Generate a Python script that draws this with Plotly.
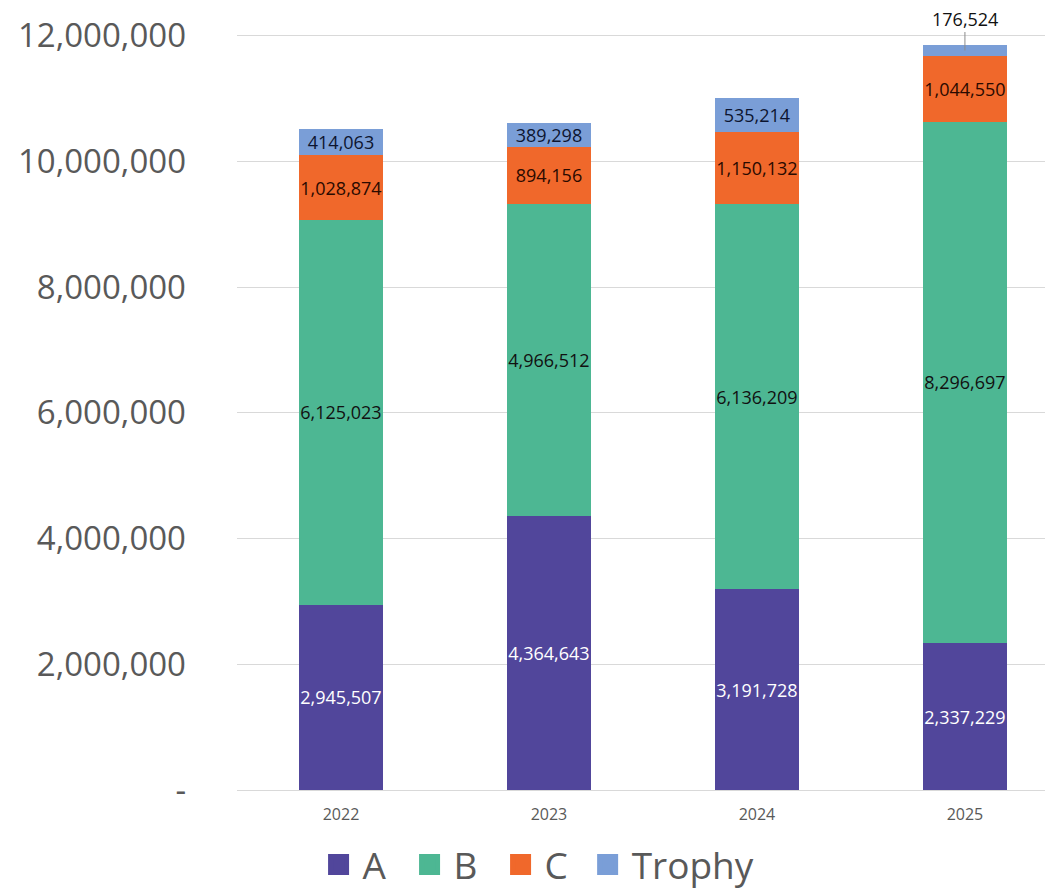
import plotly.graph_objects as go

years = ["2022", "2023", "2024", "2025"]
series_names = ["A", "B", "C", "Trophy"]
a_vals = [2945507, 4364643, 3191728, 2337229]
b_vals = [6125023, 4966512, 6136209, 8296697]
c_vals = [1028874, 894156, 1150132, 1044550]
trophy_vals = [414063, 389298, 535214, 176524]
y_ticks = [0, 2000000, 4000000, 6000000, 8000000, 10000000, 12000000]
y_tick_text = ["-", "2,000,000", "4,000,000", "6,000,000", "8,000,000", "10,000,000", "12,000,000"]

colors = ["#51469B", "#4DB793", "#F0682B", "#7A9ED7"]
text_colors = ["#FFFFFF", "#111111", "#2a0a00", "#0d1530"]
values = [a_vals, b_vals, c_vals, trophy_vals]
legend_ids = ["legend", "legend", "legend", "legend2"]

FONT = "Open Sans"
fig = go.Figure()
for name, vals, col, tcol, lid in zip(series_names, values, colors, text_colors, legend_ids):
    texts = [f"{v:,}" for v in vals]
    if name == "Trophy":
        texts = [t if i < len(vals) - 1 else "" for i, t in enumerate(texts)]
    fig.add_trace(go.Bar(
        x=years, y=vals, name=name, marker=dict(color=col, line=dict(width=0)),
        text=texts, textposition="inside", insidetextanchor="middle",
        constraintext="none", textangle=0,
        textfont=dict(family=FONT, size=18, color=tcol),
        showlegend=False, hoverinfo="skip",
    ))
    fig.add_trace(go.Scatter(
        x=[None], y=[None], mode="markers", name=name, legend=lid,
        marker=dict(symbol="square", size=16, color=col, line=dict(color=col, width=5)),
        showlegend=True,
    ))

# leader-line label for the small last Trophy segment
last = len(years) - 1
total_last = a_vals[last] + b_vals[last] + c_vals[last] + trophy_vals[last]
fig.add_annotation(
    xref="x", yref="y", x=last, y=total_last - trophy_vals[last] / 2,
    text=f"{trophy_vals[last]:,}",
    showarrow=True, arrowhead=0, arrowwidth=1, arrowcolor="#8c8c8c",
    ax=0, ay=-32, font=dict(family=FONT, size=18, color="#111111"),
)

legend_common = dict(orientation="h", traceorder="normal", yanchor="middle", y=-0.097,
                     xanchor="left", font=dict(family=FONT, size=37, color="#595959"),
                     itemwidth=38, tracegroupgap=0, bgcolor="rgba(0,0,0,0)")

fig.update_layout(
    width=1051, height=894,
    margin=dict(l=237, r=6, t=17, b=104, autoexpand=False),
    paper_bgcolor="white", plot_bgcolor="white",
    barmode="stack", bargap=0.6,
    font=dict(family=FONT, color="#595959"),
    legend=dict(x=0.096, entrywidth=38, entrywidthmode="pixels", **legend_common),
    legend2=dict(x=0.429, **legend_common),
)
fig.update_xaxes(type="category", range=[-0.5, 3.385], showgrid=False,
                 showline=False, ticks="", tickfont=dict(family=FONT, size=16, color="#595959"),
                 ticklabelstandoff=13)
fig.update_yaxes(range=[0, 12300000], tickvals=y_ticks, ticktext=y_tick_text,
                 showgrid=True, gridcolor="#D9D9D9", gridwidth=1, zeroline=True,
                 zerolinecolor="#D9D9D9", zerolinewidth=1, showline=False,
                 tickfont=dict(family=FONT, size=33, color="#595959"),
                 ticklabelstandoff=50)

fig.write_html("out.html")
